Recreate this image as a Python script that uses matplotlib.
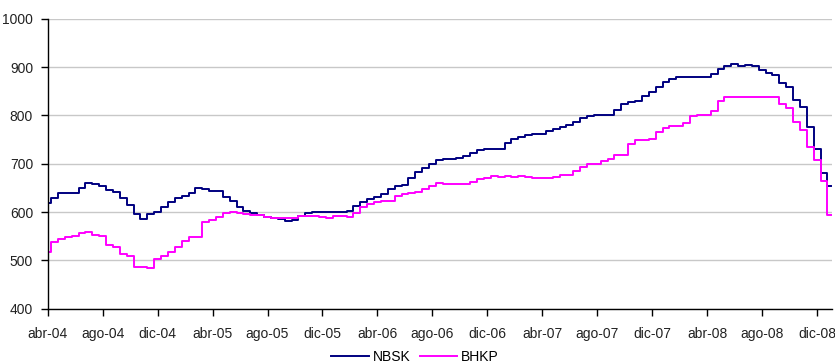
import numpy as np
import matplotlib
matplotlib.use("Agg")
import matplotlib.pyplot as plt

# Weekly pulp prices (USD/t) at half-month steps from abr-04
nbsk = [
    618, 630, 639, 639, 640, 650, 660, 659, 653, 645,
    641, 628, 615, 596, 585, 595, 599, 611, 620, 630,
    633, 640, 649, 648, 644, 643, 632, 622, 610, 603,
    597, 594, 590, 587, 586, 582, 583, 592, 598, 601,
    601, 599, 599, 600, 603, 612, 620, 626, 631, 637,
    647, 653, 656, 670, 682, 692, 700, 707, 710, 710,
    711, 716, 723, 728, 731, 731, 731, 742, 752, 756,
    759, 761, 761, 768, 772, 777, 781, 787, 795, 799,
    800, 801, 802, 811, 823, 828, 831, 840, 848, 860,
    869, 876, 880, 880, 880, 880, 880, 885, 897, 903,
    906, 902, 905, 902, 895, 889, 884, 868, 860, 833,
    818, 777, 730, 680, 653,
]
bhkp = [
    518, 538, 545, 548, 551, 556, 558, 553, 550, 532,
    528, 512, 508, 487, 486, 483, 503, 508, 518, 528,
    540, 548, 549, 580, 584, 590, 597, 599, 598, 595,
    594, 593, 589, 588, 588, 588, 588, 591, 592, 592,
    590, 588, 591, 592, 590, 598, 611, 616, 620, 622,
    622, 634, 638, 640, 641, 647, 653, 660, 659, 659,
    659, 659, 662, 668, 670, 675, 672, 674, 672, 674,
    673, 671, 671, 670, 672, 676, 677, 685, 693, 699,
    700, 706, 710, 718, 718, 740, 749, 750, 751, 766,
    775, 779, 779, 785, 798, 801, 801, 810, 830, 839,
    839, 839, 839, 839, 839, 839, 838, 824, 815, 786,
    770, 735, 708, 665, 594,
]
tick_labels = ["abr-04", "ago-04", "dic-04", "abr-05", "ago-05", "dic-05",
               "abr-06", "ago-06", "dic-06", "abr-07", "ago-07", "dic-07",
               "abr-08", "ago-08", "dic-08"]

# x in months since abr-04
x = np.arange(len(nbsk)) * 0.5

plt.rcParams["font.family"] = ["Liberation Sans Narrow", "Liberation Sans", "DejaVu Sans"]

fig = plt.figure(figsize=(8.35, 3.64), dpi=100)
ax = fig.add_axes([47.7 / 835, 1 - 308.5 / 364, (831.7 - 47.7) / 835, (308.5 - 19) / 364])

ax.plot(x, nbsk, drawstyle="steps-mid", color="#000080", lw=1.4, label="NBSK")
ax.plot(x, bhkp, drawstyle="steps-mid", color="#FF00FF", lw=1.4, label="BHKP")

ax.set_ylim(400, 1000)
ax.set_yticks(range(400, 1001, 100))
ax.set_xlim(0, 57.06)
ax.set_xticks(np.arange(len(tick_labels)) * 4)
ax.set_xticklabels(tick_labels)

ax.yaxis.grid(True, color="#c8c8c8", lw=1.0)
ax.set_axisbelow(True)
for s in ["top", "right"]:
    ax.spines[s].set_visible(False)
for s in ["left", "bottom"]:
    ax.spines[s].set_color("black")
    ax.spines[s].set_linewidth(1.0)

ax.tick_params(axis="y", length=5, width=1, pad=5.5, labelsize=10, colors="black")
ax.tick_params(axis="x", length=5, width=1, pad=8.5, labelsize=10, colors="black")
for t in ax.get_xticklabels() + ax.get_yticklabels():
    t.set_color("#222222")

leg = fig.legend(loc="center", bbox_to_anchor=(0.497, 1 - 356.7 / 364), ncol=2,
                 frameon=False, handlelength=2.7, handletextpad=0.25,
                 columnspacing=0.7, borderpad=0,
                 prop={"family": ["Liberation Sans", "DejaVu Sans"], "size": 10})

fig.savefig("out.png", dpi=100)
